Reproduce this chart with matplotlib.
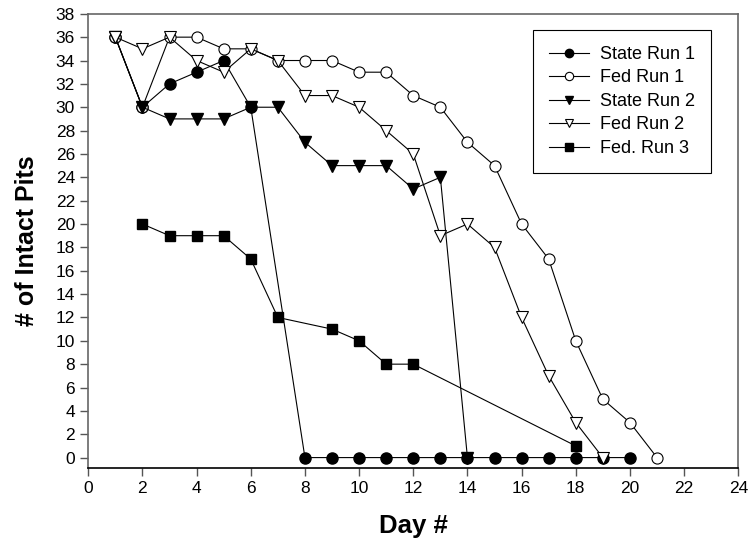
"""Intact pits per day for the state and federal runs."""

import matplotlib

matplotlib.use("Agg")
import matplotlib.pyplot as plt

plt.rcParams["font.family"] = ["Liberation Sans", "DejaVu Sans"]

# 各シリーズの値
state1_days = [1, 2, 3, 4, 5, 6, 8, 9, 10, 11, 12, 13, 14, 15, 16, 17, 18, 19, 20]
state1_pits = [36, 30, 32, 33, 34, 30, 0, 0, 0, 0, 0, 0, 0, 0, 0, 0, 0, 0, 0]

fed1_days = list(range(1, 22))
fed1_pits = [36, 30, 36, 36, 35, 35, 34, 34, 34, 33, 33, 31, 30, 27, 25, 20, 17, 10, 5, 3, 0]

state2_days = list(range(1, 15))
state2_pits = [36, 30, 29, 29, 29, 30, 30, 27, 25, 25, 25, 23, 24, 0]

fed2_days = list(range(1, 20))
fed2_pits = [36, 35, 36, 34, 33, 35, 34, 31, 31, 30, 28, 26, 19, 20, 18, 12, 7, 3, 0]

fed3_days = [2, 3, 4, 5, 6, 7, 9, 10, 11, 12, 18]
fed3_pits = [20, 19, 19, 19, 17, 12, 11, 10, 8, 8, 1]

x_ticks = list(range(0, 25, 2))
y_ticks = list(range(0, 39, 2))

fig = plt.figure(figsize=(7.48, 5.52), dpi=100)
ax = fig.add_axes([0.118, 0.152, 0.869, 0.823])

lw = 0.8
# 重なり順：State Run 1 < Fed Run 1 < State Run 2 < Fed Run 2 < Fed. Run 3
ax.plot(state1_days, state1_pits, "-o", color="black", lw=lw, ms=8,
        mfc="black", mec="black", label="State Run 1", zorder=2)
ax.plot(fed1_days, fed1_pits, "-o", color="black", lw=lw, ms=8,
        mfc="white", mec="black", mew=0.8, label="Fed Run 1", zorder=3)
ax.plot(state2_days, state2_pits, "-v", color="black", lw=lw, ms=8.5,
        mfc="black", mec="black", label="State Run 2", zorder=4)
ax.plot(fed2_days, fed2_pits, "-v", color="black", lw=lw, ms=8.5,
        mfc="white", mec="black", mew=0.8, label="Fed Run 2", zorder=5)
ax.plot(fed3_days, fed3_pits, "-s", color="black", lw=lw, ms=7,
        mfc="black", mec="black", label="Fed. Run 3", zorder=6)

ax.set_xlim(0, 24)
ax.set_ylim(-0.9, 38)
ax.set_xticks(x_ticks)
ax.set_yticks(y_ticks)
ax.tick_params(direction="out", length=5.5, width=1, color="#555555",
               labelsize=12.5, pad=4)

for side in ["left", "right", "top", "bottom"]:
    ax.spines[side].set_color("#666666")
    ax.spines[side].set_linewidth(1.2)
ax.spines["bottom"].set_color("black")

ax.set_xlabel("Day #", fontsize=18.5, fontweight="bold", labelpad=13)
ax.set_ylabel("# of Intact Pits", fontsize=18, fontweight="bold", labelpad=12)

leg = ax.legend(loc="upper right", bbox_to_anchor=(0.958, 0.965),
                borderaxespad=0, fontsize=13, frameon=True, fancybox=False,
                edgecolor="black", framealpha=1, handlelength=2.2,
                handletextpad=0.6, labelspacing=0.36, markerscale=0.75,
                borderpad=0.9)
leg.get_frame().set_linewidth(0.8)
leg.set_zorder(10)

fig.savefig("out.png", dpi=100)
